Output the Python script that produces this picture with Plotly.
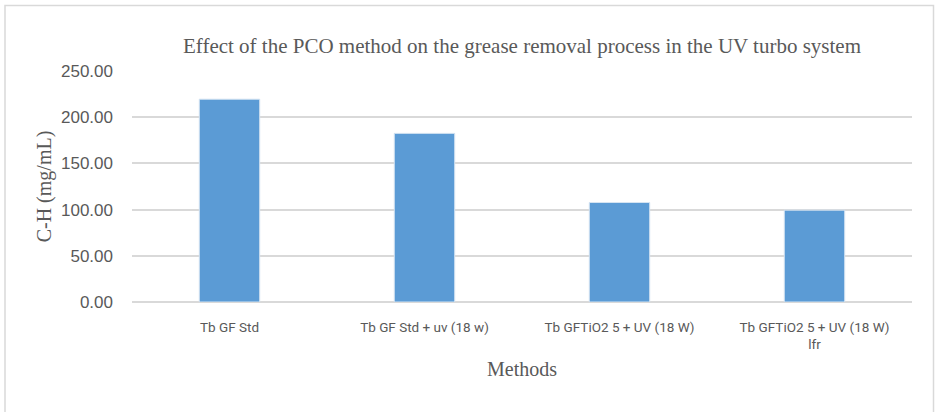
import plotly.graph_objects as go

categories = ["Tb GF Std", "Tb GF Std + uv (18 w)", "Tb GFTiO2 5 + UV (18 W)", "Tb GFTiO2 5 + UV (18 W)<br>lfr"]
values = [219.5, 182.5, 107.7, 99.4]
y_ticks = [0, 50, 100, 150, 200, 250]
y_tick_labels = ["0.00", "50.00", "100.00", "150.00", "200.00", "250.00"]

W, H = 935, 412
L, R, T, B = 132, 23, 71, 110
pw, ph = W - L - R, H - T - B

fig = go.Figure(go.Bar(
    x=categories, y=values, width=0.31,
    marker=dict(color="#5B9BD5", line=dict(color="#D6E4F2", width=1)),
))

grey = "#595959"
serif = "Liberation Serif, Times New Roman, serif"
xtickfont = dict(family="Roboto, Liberation Sans, Arial", size=13.5, color=grey)
ytickfont = dict(family="Liberation Sans, Arial", size=17, color=grey)

fig.update_layout(
    width=W, height=H,
    margin=dict(l=L, r=R, t=T, b=B, autoexpand=False),
    paper_bgcolor="white", plot_bgcolor="white",
    showlegend=False,
    title=dict(text="Effect of the PCO method on the grease removal process in the UV turbo system",
               x=0.5, xref="paper", y=1 - 46 / H, yref="container", yanchor="middle",
               font=dict(family=serif, size=21, color=grey), automargin=False),
    xaxis=dict(showgrid=False, showline=False, ticks="", tickfont=xtickfont,
               ticklabelstandoff=15, automargin=False,
               title=dict(text="Methods", font=dict(family=serif, size=20, color=grey), standoff=10)),
    yaxis=dict(range=[0, 250], tickvals=y_ticks, ticktext=y_tick_labels, showgrid=True,
               gridcolor="#D9D9D9", gridwidth=1.5, zeroline=True, zerolinecolor="#D9D9D9", zerolinewidth=1.5,
               showline=False, ticks="", tickfont=ytickfont, ticklabelstandoff=18, automargin=False,
               title=dict(text="C-H (mg/mL)", font=dict(family=serif, size=20, color=grey), standoff=4)),
)

# outer chart border (pixel -> paper coordinates)
def px_x(p):
    return (p - L) / pw

def px_y(p):
    return (H - B - p) / ph

fig.add_shape(type="rect", xref="paper", yref="paper",
              x0=px_x(5), x1=px_x(933.5), y0=px_y(430), y1=px_y(5.5),
              line=dict(color="#D9D9D9", width=1.5), fillcolor="rgba(0,0,0,0)", layer="below")

fig.write_html("out.html", config={"displayModeBar": False},
               post_script="document.body.style.margin='0px';")
